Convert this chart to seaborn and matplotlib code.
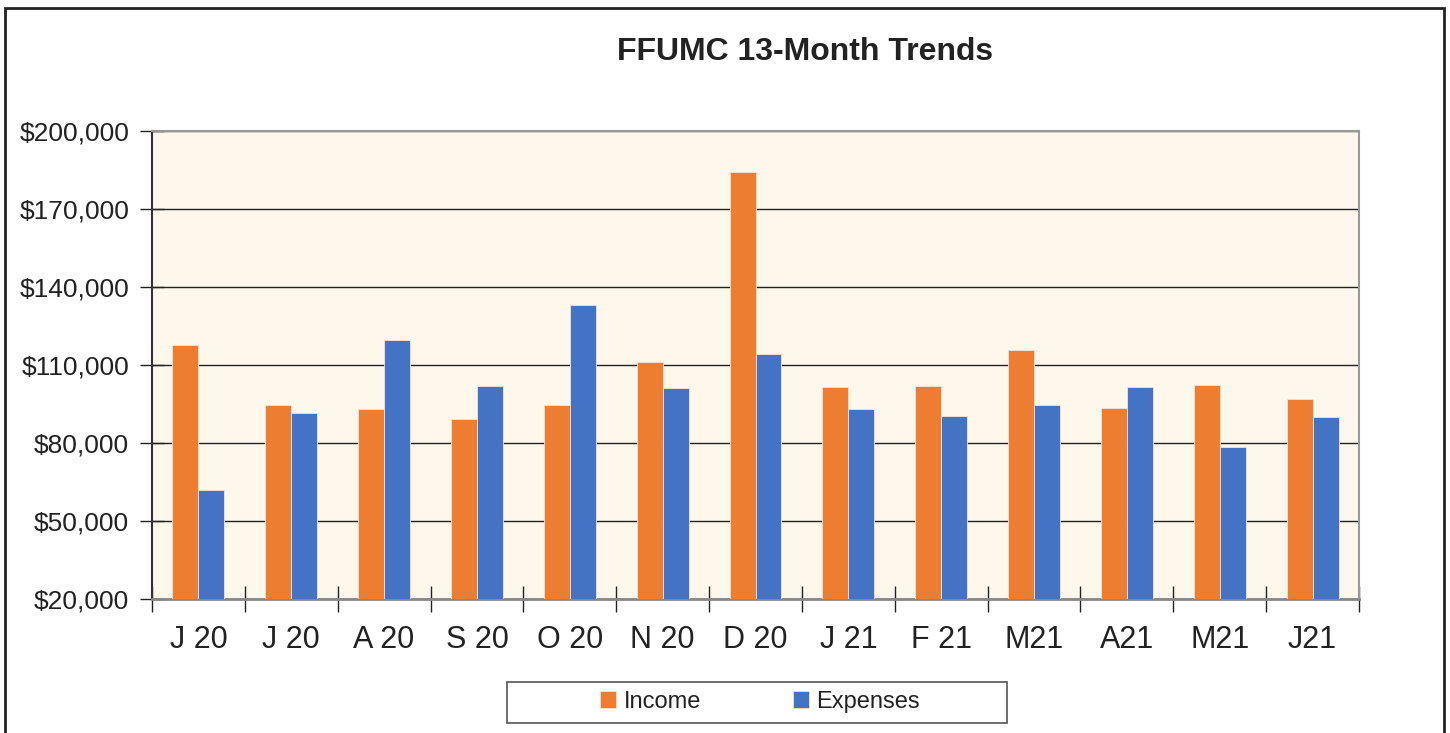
import pandas as pd
import numpy as np
import matplotlib.pyplot as plt
import seaborn as sns
from matplotlib.patches import Rectangle
from matplotlib.ticker import FuncFormatter, FixedLocator

# -------------------------
# Data
# -------------------------
months = ['J 20', 'J 20 ', 'A 20', 'S 20', 'O 20', 'N 20', 'D 20',
          'J 21', 'F 21', 'M21', 'A21', 'M21 ', 'J21']
income = [117700, 94600, 93100, 89200, 94600, 111200, 184200,
          101500, 101900, 115800, 93500, 102300, 96900]
expenses = [61900, 91500, 119600, 101900, 133100, 101200, 114200,
            93100, 90400, 94600, 101500, 78500, 90000]

df = pd.DataFrame({'Month': months * 2,
                   'Value': income + expenses,
                   'Series': ['Income'] * 13 + ['Expenses'] * 13})

# -------------------------
# Plot
# -------------------------
sns.set_theme(style='white')
plt.rcParams['font.family'] = ['Liberation Sans', 'DejaVu Sans']

fig = plt.figure(figsize=(14.5, 7.33), dpi=100)
ax = fig.add_axes([152 / 1450, 1 - 599 / 733, (1359 - 152) / 1450, (599 - 131) / 733])
ax.set_facecolor('#FEF8EC')

sns.barplot(data=df, x='Month', y='Value', hue='Series', order=months,
            palette={'Income': '#ED7D31', 'Expenses': '#4472C4'}, saturation=1,
            width=0.56, edgecolor='#f4e4d4', linewidth=0.6, ax=ax,
            legend=True, zorder=3)

ax.set_ylim(20000, 200000)
ax.set_xlim(-0.5, len(months) - 0.5)
ax.yaxis.set_major_locator(FixedLocator(np.arange(20000, 200001, 30000)))
ax.yaxis.set_major_formatter(FuncFormatter(lambda v, p: f'${v:,.0f}'))
ax.grid(axis='y', color='#222222', linewidth=1.0, zorder=1)
ax.set_axisbelow(True)

ax.set_xticks(range(len(months)))
ax.set_xticklabels([m.strip() for m in months])
ax.set_xticks(np.arange(-0.5, len(months)), minor=True)
ax.tick_params(axis='x', which='major', length=0, labelsize=22, pad=19, colors='#222222')
ax.tick_params(axis='x', which='minor', bottom=True, length=19, width=1,
               color='#222222', direction='inout')
ax.tick_params(axis='y', which='major', left=True, length=17, width=1, color='#222222',
               direction='inout', labelsize=19, pad=8, labelcolor='#222222')
ax.set_xlabel('')
ax.set_ylabel('')

for side in ['top', 'right']:
    ax.spines[side].set_color('#999999')
    ax.spines[side].set_linewidth(1.5)
ax.spines['left'].set_color('#333333')
ax.spines['left'].set_linewidth(1.5)
ax.spines['bottom'].set_color('#888888')
ax.spines['bottom'].set_linewidth(2)

# legend below the plot, with its own box
handles, labels = ax.get_legend_handles_labels()
ax.get_legend().remove()
fig.patches.append(Rectangle((507 / 1450, 1 - 723 / 733), 500 / 1450, 41 / 733,
                             transform=fig.transFigure, fill=False,
                             edgecolor='#555555', linewidth=1.2))
leg = fig.legend(handles, labels, loc='center', ncol=2,
                 bbox_to_anchor=(760 / 1450, 1 - 702 / 733),
                 fontsize=17, frameon=False, borderpad=0,
                 handlelength=0.7, handleheight=0.7, handletextpad=0.3,
                 columnspacing=3.9)
for t in leg.get_texts():
    t.set_color('#222222')

fig.text(805 / 1450, 1 - 52 / 733, 'FFUMC 13-Month Trends', ha='center', va='center',
         fontsize=23, fontweight='bold', color='#222222')

# outer frame
fig.patches.append(Rectangle((5 / 1450, -0.05), 1439 / 1450, 1.05 - 8 / 733,
                             transform=fig.transFigure, fill=False,
                             edgecolor='#222222', linewidth=2))

plt.savefig('out.png', dpi=100)
plt.close()
